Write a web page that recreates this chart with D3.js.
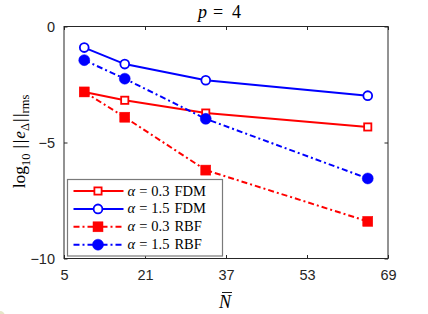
<!DOCTYPE html>
<html>
<head>
<meta charset="utf-8">
<script src="https://cdn.jsdelivr.net/npm/d3@7"></script>
<style>
  body { margin: 0; background: #fff; }
  svg { display: block; }
</style>
</head>
<body>
<div id="vis"></div>
<script>
// chart data
const N_BAR = [9, 17, 33, 65];
const FDM_03 = [-2.82, -3.18, -3.73, -4.33];
const FDM_15 = [-0.91, -1.62, -2.32, -2.98];
const RBF_03 = [-2.82, -3.91, -6.19, -8.40];
const RBF_15 = [-1.45, -2.25, -3.98, -6.55];
const X_TICKS = [5, 21, 37, 53, 69];
const Y_TICKS = [-10, -5, 0];
const LEGEND_ALPHA = ["0.3", "1.5", "0.3", "1.5"];
const LEGEND_METHOD = ["FDM", "FDM", "RBF", "RBF"];

const FRAME_WIDTH = 428;
const FRAME_HEIGHT = 314;
const MARGINS = { left: 64, top: 26.5, right: 40, bottom: 55.5 };
const VIS_WIDTH = FRAME_WIDTH - MARGINS.left - MARGINS.right;
const VIS_HEIGHT = FRAME_HEIGHT - MARGINS.top - MARGINS.bottom;

const SERIF = "'Liberation Serif', 'DejaVu Serif', serif";
const SANS = "'Liberation Sans', Arial, sans-serif";
const AXIS_COLOR = "#262626";

const FRAME = d3.select("#vis")
    .append("svg")
    .attr("width", FRAME_WIDTH)
    .attr("height", FRAME_HEIGHT);

const X_SCALE = d3.scaleLinear().domain([5, 69]).range([0, VIS_WIDTH]);
const Y_SCALE = d3.scaleLinear().domain([-10, 0]).range([VIS_HEIGHT, 0]);

const G = FRAME.append("g")
    .attr("transform", `translate(${MARGINS.left},${MARGINS.top})`);

// axes box with inward ticks on all sides
G.append("rect")
    .attr("x", 0).attr("y", 0)
    .attr("width", VIS_WIDTH).attr("height", VIS_HEIGHT)
    .attr("fill", "none")
    .attr("stroke", AXIS_COLOR)
    .attr("stroke-width", 1);

function styleAxis(sel) {
    sel.select(".domain").remove();
    sel.selectAll(".tick line").attr("stroke", AXIS_COLOR);
    sel.selectAll(".tick text")
        .attr("fill", "#262626")
        .style("font-family", SANS)
        .style("font-size", "14.5px");
}

G.append("g")
    .attr("transform", `translate(0,${VIS_HEIGHT})`)
    .call(d3.axisBottom(X_SCALE).tickValues(X_TICKS).tickSizeInner(-3.5).tickPadding(11))
    .call(styleAxis);
G.append("g")
    .call(d3.axisTop(X_SCALE).tickValues(X_TICKS).tickSizeInner(-3.5).tickFormat(""))
    .call(styleAxis);
G.append("g")
    .call(d3.axisLeft(Y_SCALE).tickValues(Y_TICKS).tickSizeInner(-3.5).tickPadding(9))
    .call(styleAxis);
G.append("g")
    .attr("transform", `translate(${VIS_WIDTH},0)`)
    .call(d3.axisRight(Y_SCALE).tickValues(Y_TICKS).tickSizeInner(-3.5).tickFormat(""))
    .call(styleAxis);

// series
const SERIES = [
    { vals: FDM_03, color: "#ff0000", dash: null, marker: "square", filled: false },
    { vals: FDM_15, color: "#0000ff", dash: null, marker: "circle", filled: false },
    { vals: RBF_03, color: "#ff0000", dash: "6,3,2,3", marker: "square", filled: true },
    { vals: RBF_15, color: "#0000ff", dash: "6,3,2,3", marker: "circle", filled: true }
];

function drawMarker(sel, s, cx, cy) {
    if (s.marker === "circle") {
        sel.append("circle")
            .attr("cx", cx).attr("cy", cy)
            .attr("r", s.filled ? 5.5 : 4.4)
            .attr("fill", s.filled ? s.color : "#fff")
            .attr("stroke", s.color)
            .attr("stroke-width", s.filled ? 0.5 : 1.8);
    } else {
        const w = s.filled ? 10 : 7.2;
        sel.append("rect")
            .attr("x", cx - w / 2).attr("y", cy - w / 2)
            .attr("width", w).attr("height", w)
            .attr("fill", s.filled ? s.color : "#fff")
            .attr("stroke", s.color)
            .attr("stroke-width", s.filled ? 0.5 : 1.8);
    }
}

const line = d3.line()
    .x((d, i) => X_SCALE(N_BAR[i]))
    .y((d) => Y_SCALE(d));

SERIES.forEach((s) => {
    const sg = G.append("g");
    sg.append("path")
        .datum(s.vals)
        .attr("d", line)
        .attr("fill", "none")
        .attr("stroke", s.color)
        .attr("stroke-width", 2)
        .attr("stroke-dasharray", s.dash);
    s.vals.forEach((v, i) => drawMarker(sg, s, X_SCALE(N_BAR[i]), Y_SCALE(v)));
});

// legend
const LEG = G.append("g").attr("transform", "translate(3.5,153)");
LEG.append("rect")
    .attr("x", 0).attr("y", 0)
    .attr("width", 155).attr("height", 76.5)
    .attr("fill", "#fff")
    .attr("stroke", "#7a7a7a")
    .attr("stroke-width", 1.2);

SERIES.forEach((s, i) => {
    const y = 11.5 + i * 17.9;
    LEG.append("line")
        .attr("x1", 6).attr("x2", 56)
        .attr("y1", y).attr("y2", y)
        .attr("stroke", s.color)
        .attr("stroke-width", 2)
        .attr("stroke-dasharray", s.dash);
    drawMarker(LEG, s, 30.5, y);
    const t = LEG.append("text")
        .attr("x", 60).attr("y", y + 4.5)
        .style("font-family", SERIF)
        .style("font-size", "14.5px")
        .attr("fill", "#000");
    t.append("tspan").style("font-style", "italic").text("\u03b1");
    t.append("tspan").attr("dx", 4).text("=");
    t.append("tspan").attr("dx", 4).text(LEGEND_ALPHA[i]);
    t.append("tspan").attr("dx", 5).text(LEGEND_METHOD[i]);
});

// title
const TITLE = FRAME.append("text")
    .attr("y", 17.5)
    .style("font-family", SERIF)
    .style("font-size", "18px");
TITLE.append("tspan").attr("x", 198).style("font-style", "italic").text("p");
TITLE.append("tspan").attr("x", 213).text("=");
TITLE.append("tspan").attr("x", 232).text("4");

// x label
FRAME.append("text")
    .attr("x", 225).attr("y", 307.5)
    .attr("text-anchor", "middle")
    .style("font-family", SERIF)
    .style("font-size", "18px")
    .style("font-style", "italic")
    .text("N");
FRAME.append("line")
    .attr("x1", 222).attr("x2", 232)
    .attr("y1", 292.5).attr("y2", 292.5)
    .attr("stroke", "#000").attr("stroke-width", 0.9);

// y label
const YL = FRAME.append("text")
    .attr("transform", "translate(25,141.5) rotate(-90)")
    .attr("text-anchor", "middle")
    .style("font-family", SERIF)
    .style("font-size", "17.5px");
YL.append("tspan").text("log");
YL.append("tspan").attr("dy", 4.5).style("font-size", "12.5px").text("10");
YL.append("tspan").attr("dy", -4.5).attr("dx", 5).text("|");
YL.append("tspan").attr("dx", 1.5).text("|");
YL.append("tspan").attr("dx", 1).style("font-style", "italic").text("e");
YL.append("tspan").attr("dy", 3.5).style("font-size", "12.5px").text("\u0394");
YL.append("tspan").attr("dy", -3.5).attr("dx", 1).text("|");
YL.append("tspan").attr("dx", 1.5).text("|");
YL.append("tspan").attr("dy", 3.5).style("font-size", "12.5px").text("rms");

// faint spot in the lower-left corner
FRAME.append("circle")
    .attr("cx", 0).attr("cy", 316).attr("r", 5)
    .attr("fill", "#e6e6c8");
</script>
</body>
</html>
